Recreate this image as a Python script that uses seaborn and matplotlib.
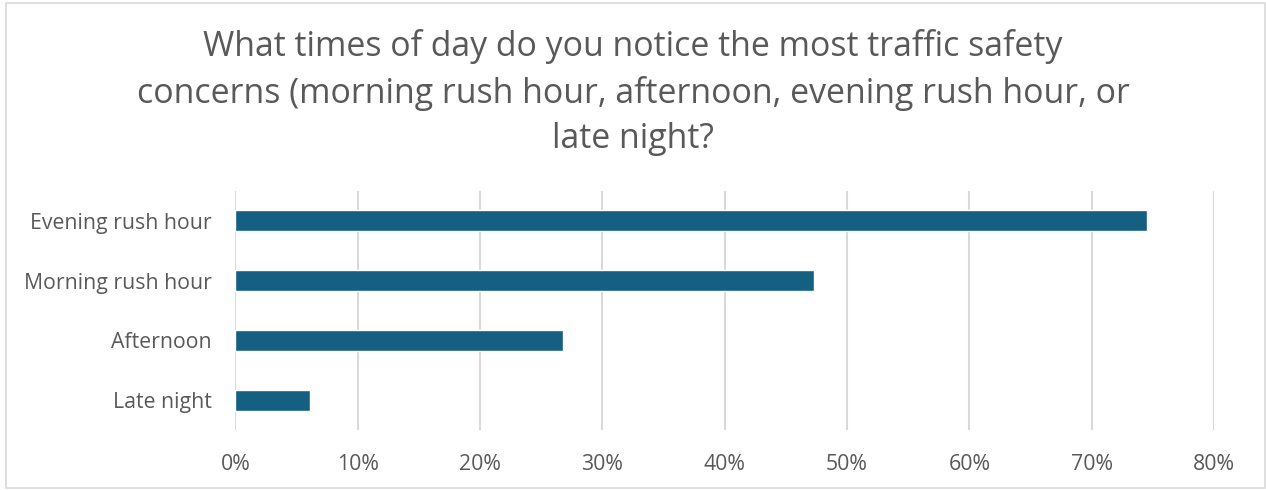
import matplotlib
matplotlib.use('Agg')
import matplotlib.pyplot as plt
import seaborn as sns
import pandas as pd
from matplotlib.patches import Rectangle
from matplotlib.ticker import PercentFormatter

# Chart data
categories = ['Evening rush hour', 'Morning rush hour', 'Afternoon', 'Late night']
shares = [74.5, 47.3, 26.8, 6.1]
x_ticks = [0, 10, 20, 30, 40, 50, 60, 70, 80]

title = ('What times of day do you notice the most traffic safety\n'
         'concerns (morning rush hour, afternoon, evening rush hour, or\n'
         'late night?')

sns.set_style('white')
plt.rcParams['font.family'] = ['Open Sans', 'DejaVu Sans']

df = pd.DataFrame({'time': categories, 'share': shares})

fig = plt.figure(figsize=(12.66, 4.9), dpi=100)
ax = fig.add_axes([0.186, 0.1224, 0.773, 0.488])

sns.barplot(data=df, x='share', y='time', color='#156082', width=0.35,
            saturation=1, ax=ax, zorder=3)

ax.set_xlim(0, 80)
ax.set_xticks(x_ticks)
ax.xaxis.set_major_formatter(PercentFormatter(decimals=0))
ax.grid(axis='x', color='#d9d9d9', linewidth=1.5, zorder=0)
ax.grid(axis='y', visible=False)
for s in ax.spines.values():
    s.set_visible(False)
ax.tick_params(axis='both', length=0, labelsize=15.3, labelcolor='#595959')
ax.tick_params(axis='x', pad=17)
ax.tick_params(axis='y', pad=17)
ax.set_xlabel('')
ax.set_ylabel('')

fig.text(0.5, 0.94, title, ha='center', va='top', fontsize=24.4,
         color='#595959', linespacing=1.42)

# chart border
fig.patches.append(Rectangle((0.005, 0.004), 0.994, 0.99, transform=fig.transFigure,
                             fill=False, edgecolor='#d9d9d9', linewidth=1.2))

fig.savefig('out.png', dpi=100)
